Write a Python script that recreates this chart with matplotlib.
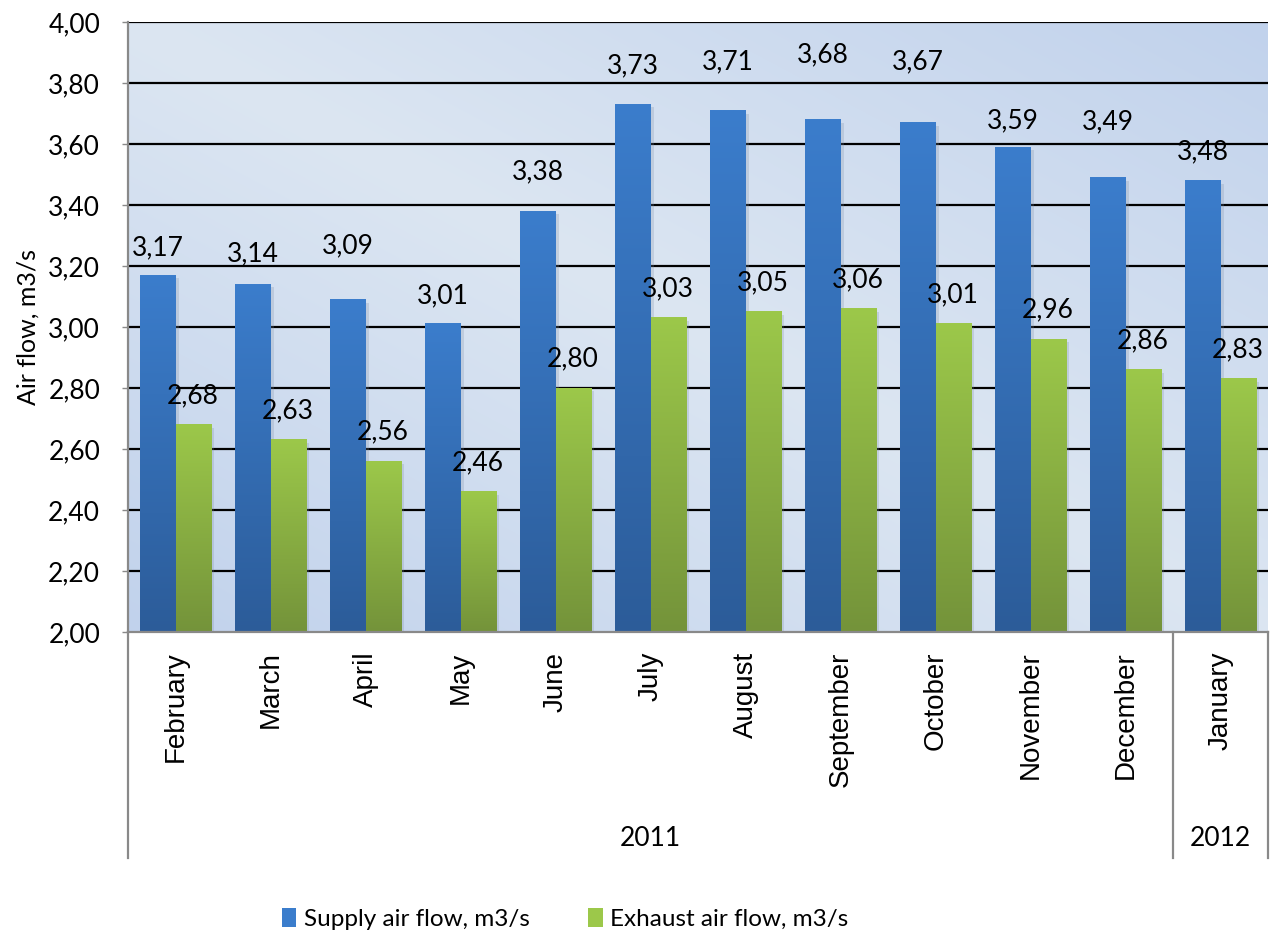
import numpy as np
import matplotlib
matplotlib.use("Agg")
import matplotlib.pyplot as plt
from matplotlib.colors import LinearSegmentedColormap, to_rgb
from matplotlib.patches import Patch

# monthly mean air flows, Feb 2011 - Jan 2012
months = ["February", "March", "April", "May", "June", "July", "August",
          "September", "October", "November", "December", "January"]
supply = [3.17, 3.14, 3.09, 3.01, 3.38, 3.73, 3.71, 3.68, 3.67, 3.59, 3.49, 3.48]
exhaust = [2.68, 2.63, 2.56, 2.46, 2.80, 3.03, 3.05, 3.06, 3.01, 2.96, 2.86, 2.83]
years = ["2011", "2012"]
year_counts = [11, 1]

# how far (pt) each data label sits above its bar
supply_label_raise = [20, 22, 39, 20, 28, 28, 35, 47, 44, 19, 40, 21]
exhaust_label_raise = 21

Y_MIN, Y_MAX = 2.0, 4.0
LABEL_FONT = "Lato"
MONTH_FONT = "Liberation Sans"
NUM_SIZE = 19

BLUE_TOP, BLUE_BOT = "#3B7DCC", "#2C5C99"
GREEN_TOP, GREEN_BOT = "#9CC84A", "#74933A"


def fmt(v):
    return f"{v:.2f}".replace(".", ",")


def gradient_bar(ax, x0, width, top, c_top, c_bot):
    cmap = LinearSegmentedColormap.from_list("g", [c_bot, c_top])
    grad = np.linspace(0, 1, 256).reshape(-1, 1)
    ax.imshow(grad, cmap=cmap, origin="lower", aspect="auto",
              extent=[x0, x0 + width, Y_MIN, top], zorder=3, interpolation="bilinear")
    # soft drop shadow on the right side
    ax.fill_between([x0 + width, x0 + width + 0.035], Y_MIN, top - 0.01,
                    color="#7f8fa6", alpha=0.25, zorder=2.5, linewidth=0)


fig = plt.figure(figsize=(12.7, 9.39), dpi=100)
ax = fig.add_axes([128 / 1270, (939 - 632) / 939, 1140 / 1270, 610 / 939])

# plot area background: light at top-left / bottom-right, darker towards the other corners
nx, ny = 300, 200
xx, yy = np.meshgrid(np.linspace(0, 1, nx), np.linspace(0, 1, ny))
t = np.clip(np.abs(xx - yy), 0, 1)
light = np.array(to_rgb("#DCE6F2"))
dark = np.array(to_rgb("#C1D2EC"))
bg = light[None, None, :] * (1 - t[..., None]) + dark[None, None, :] * t[..., None]
ax.imshow(bg, extent=[0, 1, 0, 1], transform=ax.transAxes, aspect="auto",
          origin="upper", zorder=0, interpolation="bilinear")

x = np.arange(len(months))
bw = 0.37
for i in range(len(months)):
    gradient_bar(ax, x[i] - bw, bw, supply[i], BLUE_TOP, BLUE_BOT)
    gradient_bar(ax, x[i], bw, exhaust[i], GREEN_TOP, GREEN_BOT)
    ax.annotate(fmt(supply[i]), (x[i] - bw / 2, supply[i]),
                xytext=(0, supply_label_raise[i]), textcoords="offset points",
                ha="center", va="center", fontsize=NUM_SIZE, family=LABEL_FONT, zorder=5)
    ax.annotate(fmt(exhaust[i]), (x[i] + bw / 2, exhaust[i]),
                xytext=(0, exhaust_label_raise), textcoords="offset points",
                ha="center", va="center", fontsize=NUM_SIZE, family=LABEL_FONT, zorder=5)

ax.set_xlim(-0.5, len(months) - 0.5)
ax.set_ylim(Y_MIN, Y_MAX)

yticks = np.arange(2.0, 4.01, 0.2)
ax.set_yticks(yticks)
ax.set_yticklabels([fmt(v) for v in yticks], fontsize=NUM_SIZE, family=LABEL_FONT)
for v in yticks[1:]:
    ax.axhline(v, color="black", linewidth=1.6, zorder=1)
ax.tick_params(axis="y", length=4, width=1, color="#898989", pad=16)
ax.set_xticks([])

for side in ["top", "right"]:
    ax.spines[side].set_visible(False)
for side in ["left", "bottom"]:
    ax.spines[side].set_color("#898989")
    ax.spines[side].set_linewidth(1.6)
    ax.spines[side].set_zorder(4)

# two-level category axis: months, then years
trans = ax.get_xaxis_transform()
for i, m in enumerate(months):
    ax.text(x[i], -0.032, m, rotation=90, ha="center", va="top", fontsize=20,
            family=MONTH_FONT, transform=trans)

axis_depth = -(858 - 632) / 610
start = 0
bounds = [-0.5]
for yr, n in zip(years, year_counts):
    mid = (start - 0.5 + start + n - 0.5) / 2
    ax.text(mid, -(838 - 632) / 610, yr, ha="center", va="center", fontsize=NUM_SIZE,
            family=LABEL_FONT, transform=trans)
    start += n
    bounds.append(start - 0.5)
for b in bounds:
    ax.plot([b, b], [0, axis_depth], color="#898989", linewidth=1.6,
            transform=trans, clip_on=False, zorder=4)

fig.text(28 / 1270, (939 - 327) / 939, "Air flow, m3/s", rotation=90,
         ha="center", va="center", fontsize=18, family=LABEL_FONT)

handles = [Patch(facecolor=BLUE_TOP, edgecolor="none"),
           Patch(facecolor=GREEN_TOP, edgecolor="none")]
fig.legend(handles, ["Supply air flow, m3/s", "Exhaust air flow, m3/s"],
           loc="center", bbox_to_anchor=(565 / 1270, 20 / 939), ncol=2,
           frameon=False, prop={"family": LABEL_FONT, "size": 17.5},
           handlelength=0.6, handleheight=0.85, handletextpad=0.3,
           columnspacing=2.4)

fig.savefig("out.png", dpi=100)
